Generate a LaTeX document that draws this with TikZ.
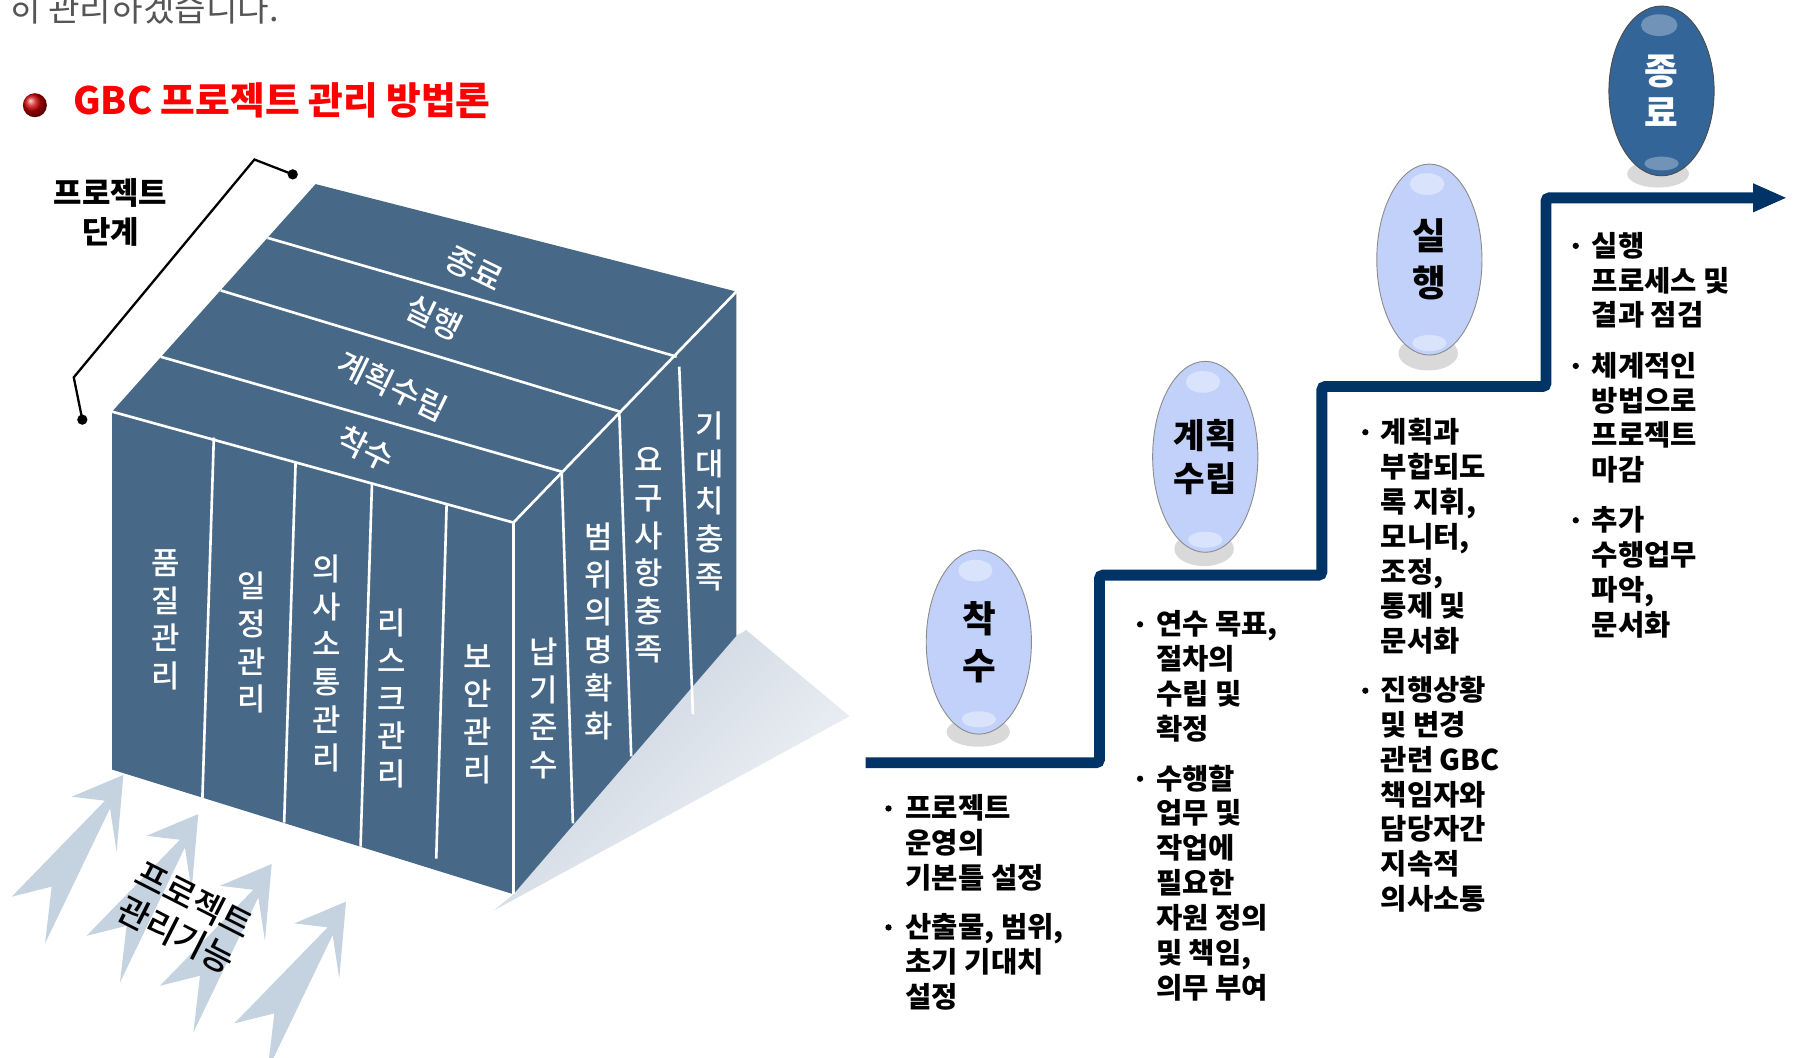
\documentclass[tikz,border=0pt]{standalone}
\usepackage{fontspec}
\setmainfont{Noto Sans CJK KR}
\newfontfamily\krmed{Noto Sans CJK KR Medium}
\usetikzlibrary{arrows.meta, positioning, shapes.geometric}
\definecolor{cubeblue}{RGB}{71,104,134}
\definecolor{stairnavy}{RGB}{0,51,102}
\definecolor{stagelight}{RGB}{194,209,250}
\definecolor{stagedark}{RGB}{51,101,152}
\definecolor{arrowgray}{RGB}{197,211,224}
\definecolor{shadeA}{RGB}{196,207,220}
\definecolor{shadeB}{RGB}{244,246,249}
\definecolor{introgray}{RGB}{85,85,85}
\definecolor{titlered}{RGB}{255,0,0}

\begin{document}
\begin{tikzpicture}[
    x=1pt, y=-1pt,
    every node/.style={inner sep=0pt, outer sep=0pt},
    wline/.style={draw=white, line width=2.3pt},
    facetext/.style={text=white, align=center, font=\fontsize{27}{33}\krmed},
    toptext/.style={text=white, rotate=-26, font=\fontsize{28}{33}\krmed},
    stage/.style={ellipse, draw=black!45, line width=0.8pt, fill=stagelight, minimum width=92pt, align=center, font=\fontsize{32}{41}\selectfont\bfseries},
    gloss/.style={white, opacity=0.4},
    foot/.style={black!15},
    txtitem/.style={anchor=base west, align=left, font=\fontsize{25}{30.5}\selectfont\bfseries},
    bul/.style={circle, fill=black, minimum size=5.5pt},
    stair/.style={draw=stairnavy, line width=9.5pt, rounded corners=3pt, -{Triangle[length=30pt, width=23pt]}}
]
\useasboundingbox (0,0) rectangle (1568,925);
\clip (0,0) rectangle (1568,925);

\node[anchor=base west, text=introgray, font=\fontsize{30}{32}\selectfont] (intro) at (8,19) {히 관리하겠습니다.};
\shade[ball color=red!80!black] (30.5,92) circle [radius=10.5];
\node[anchor=base west, text=titlered, font=\fontsize{33}{36}\selectfont\bfseries] (title) at (64,100) {GBC 프로젝트 관리 방법론};

\coordinate (b1) at (72,367);
\coordinate (b2) at (64.5,330);
\coordinate (b3) at (222.5,139.5);
\coordinate (b4) at (256,152.5);
\draw[line width=2pt] (b1) -- (b2) -- (b3) -- (b4);
\fill (b1) circle [radius=4.5];
\fill (b4) circle [radius=4.5];
\node[align=center, font=\fontsize{27}{34.5}\selectfont\bfseries] (phase) at (96.6,186) {프로젝트\\단계};

\foreach \tx/\ty in {107.9/677.7, 173.4/711.9, 237.6/755.6, 302.6/788.5}
  \fill[arrowgray, shift={(\tx,\ty)}] (0,0) -- (-5.9,67.1) -- (-11.7,29.2) -- (-68.5,147.3) -- (-62.7,97.7) -- (-97.7,106.5) -- (-16.1,22.5) -- (-45.2,19) -- cycle;

\shade[top color=shadeA, bottom color=shadeB, shading angle=45] (449,782) -- (644,556) -- (652.6,551) -- (743,626.4) -- (431.7,796.3) -- cycle;
\fill[cubeblue] (98,360) -- (276,161) -- (644,255) -- (644,556) -- (449,782) -- (98,673) -- cycle;
\draw[wline] (98,360) -- (449,457) -- (644,255);
\draw[wline] (449,457) -- (449,782);
\draw[wline] (234,208) -- (591.7,311.9);
\draw[wline] (193,254) -- (542.2,360);
\draw[wline] (140.6,312) -- (491.2,412.5);
\draw[wline] (491.2,414) -- (501,720);
\draw[wline] (541.6,361.5) -- (552,661.5);
\draw[wline] (594,320.7) -- (606,624.7);
\draw[wline] (187,382.6) -- (177,698);
\draw[wline] (258.5,404.4) -- (248.5,719.3);
\draw[wline] (325.3,422.8) -- (315.3,740.3);
\draw[wline] (390.6,440.9) -- (381.5,750.8);

\node[toptext] (t4) at (414.5,235.5) {종료};
\node[toptext] (t3) at (379.5,277.5) {실행};
\node[toptext] (t2) at (343.4,337.6) {계획수립};
\node[toptext] (t1) at (320,392) {착수};

\node[facetext] (f1) at (144.6,542) {품\\질\\관\\리};
\node[facetext] (f2) at (220.2,562) {일\\정\\관\\리};
\node[facetext] (f3) at (285.5,580) {의\\사\\소\\통\\관\\리};
\node[facetext] (f4) at (342.6,611) {리\\스\\크\\관\\리};
\node[facetext] (f5) at (417.7,624.5) {보\\안\\관\\리};
\node[facetext] (f6) at (475.7,619.5) {납\\기\\준\\수};
\node[facetext] (f7) at (524,552) {범\\위\\의\\명\\확\\화};
\node[facetext] (f8) at (567.3,485.5) {요\\구\\사\\항\\충\\족};
\node[facetext] (f9) at (621,438.5) {기\\대\\치\\충\\족};

\node[rotate=-27, align=center, font=\fontsize{30}{34}\krmed] (func) at (162,802) {프로젝트\\관리기능};

\draw[stair] (757,667) -- (961.5,667) -- (961.5,503) -- (1156,503) -- (1156,338) -- (1352,338) -- (1352,173) -- (1563,173);

\fill[foot] (855.5,640) ellipse [x radius=27.7, y radius=13];
\fill[foot] (1053,480) ellipse [x radius=26, y radius=15];
\fill[foot] (1249,309) ellipse [x radius=26, y radius=15];
\fill[foot] (1450,152) ellipse [x radius=27, y radius=12];

\node[stage, minimum height=161pt] (s1) at (856,561.5) {착\\수};
\node[stage, minimum height=167pt, font=\fontsize{30}{38}\selectfont\bfseries] (s2) at (1054,399.5) {계획\\수립};
\node[stage, minimum height=167pt] (s3) at (1250,227) {실\\행};
\node[stage, minimum height=148.5pt, fill=stagedark, draw=black!70, text=white, font=\fontsize{32}{37}\selectfont\bfseries] (s4) at (1453,79.5) {종\\료};

\fill[gloss] (853,499) ellipse [x radius=15, y radius=9.5];
\fill[gloss] (856,629) ellipse [x radius=15, y radius=7];
\fill[gloss] (1052,334) ellipse [x radius=15, y radius=9.5];
\fill[gloss] (1054,472) ellipse [x radius=15, y radius=7];
\fill[gloss] (1248,161) ellipse [x radius=15, y radius=9.5];
\fill[gloss] (1250,300) ellipse [x radius=15, y radius=7];
\fill[gloss, opacity=0.3] (1451,22) ellipse [x radius=16, y radius=9.5];
\fill[gloss, opacity=0.3] (1453,143) ellipse [x radius=15, y radius=6];

\node[bul] (d1) at (777,707) {};
\node[txtitem] (i1) at (792,777) {프로젝트\\운영의\\기본틀 설정};
\node[bul] (d2) at (777,811) {};
\node[txtitem] (i2) at (792,881) {산출물, 범위,\\초기 기대치\\설정};
\node[bul] (d3) at (997,546) {};
\node[txtitem] (i3) at (1011,646.5) {연수 목표,\\절차의\\수립 및\\확정};
\node[bul] (d4) at (997,681) {};
\node[txtitem] (i4) at (1011,873) {수행할\\업무 및\\작업에\\필요한\\자원 정의\\및 책임,\\의무 부여};
\node[bul] (d5) at (1194,378) {};
\node[txtitem] (i5) at (1207.5,570) {계획과\\부합되도\\록 지휘,\\모니터,\\조정,\\통제 및\\문서화};
\node[bul] (d6) at (1194,604) {};
\node[txtitem] (i6) at (1207.5,795.5) {진행상황\\및 변경\\관련 GBC\\책임자와\\담당자간\\지속적\\의사소통};
\node[bul] (d7) at (1378,215) {};
\node[txtitem] (i7) at (1392,285) {실행\\프로세스 및\\결과 점검};
\node[bul] (d8) at (1378,320) {};
\node[txtitem] (i8) at (1392,420.5) {체계적인\\방법으로\\프로젝트\\마감};
\node[bul] (d9) at (1378,455) {};
\node[txtitem] (i9) at (1392,555.5) {추가\\수행업무\\파악,\\문서화};

\end{tikzpicture}
\end{document}
